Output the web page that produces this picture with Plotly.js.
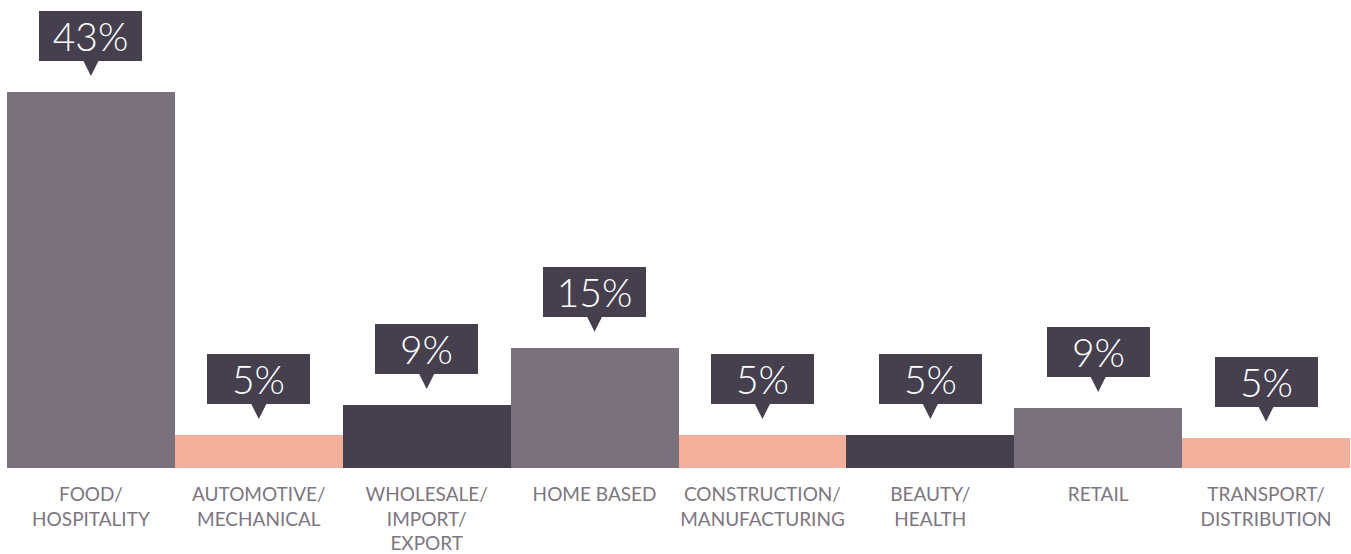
<!DOCTYPE html>
<html>
<head>
<meta charset="utf-8">
<script src="https://cdn.plot.ly/plotly-3.0.1.min.js"></script>
<style>
html,body{margin:0;padding:0;background:#fff;}
#chart{width:1351px;height:554px;}
</style>
</head>
<body>
<div id="chart"></div>
<script>
// Categories (tick labels, with line breaks as in the picture)
var categories = [
  "FOOD/<br>HOSPITALITY",
  "AUTOMOTIVE/<br>MECHANICAL",
  "WHOLESALE/<br>IMPORT/<br>EXPORT",
  "HOME BASED",
  "CONSTRUCTION/<br>MANUFACTURING",
  "BEAUTY/<br>HEALTH",
  "RETAIL",
  "TRANSPORT/<br>DISTRIBUTION"
];
// Percentages shown in the callouts
var percentLabels = [43, 5, 9, 15, 5, 5, 9, 5];
// Bar heights as drawn in the picture (same scale as the 43% bar)
var barHeights = [43, 3.77, 7.2, 13.76, 3.77, 3.77, 6.86, 3.47];

var palette = ["#79717b", "#f2af9b", "#463f4e"];
var barColors = categories.map(function(_, i){ return palette[i % 3]; });

var trace = {
  type: "bar",
  x: categories,
  y: barHeights,
  marker: {color: barColors, line: {width: 0}},
  hoverinfo: "skip",
  cliponaxis: false
};

var annotations = categories.map(function(c, i){
  return {
    x: c,
    y: barHeights[i],
    xref: "x",
    yref: "y",
    text: percentLabels[i] + "%",
    font: {family: "Lato, 'Open Sans', sans-serif", size: 39, weight: 300, color: "#ffffff"},
    bgcolor: "#463f4e",
    borderpad: 0,
    borderwidth: 0,
    width: 103,
    height: 50,
    showarrow: true,
    arrowhead: 2,
    arrowsize: 3.6,
    arrowwidth: 1,
    arrowcolor: "#463f4e",
    ax: 0,
    ay: -56,
    standoff: 16
  };
});

var layout = {
  width: 1351,
  height: 554,
  margin: {l: 7, r: 1, t: 92, b: 86},
  paper_bgcolor: "#ffffff",
  plot_bgcolor: "#ffffff",
  bargap: 0,
  showlegend: false,
  xaxis: {
    type: "category",
    showgrid: false,
    zeroline: false,
    showline: false,
    ticks: "",
    tickfont: {family: "Lato, 'Open Sans', sans-serif", size: 19, color: "#7d757f"},
    ticklabelstandoff: 13,
    fixedrange: true
  },
  yaxis: {
    range: [0, 43],
    visible: false,
    showgrid: false,
    zeroline: false,
    fixedrange: true
  },
  annotations: annotations
};

Plotly.newPlot("chart", [trace], layout, {displayModeBar: false, staticPlot: true});
</script>
</body>
</html>
